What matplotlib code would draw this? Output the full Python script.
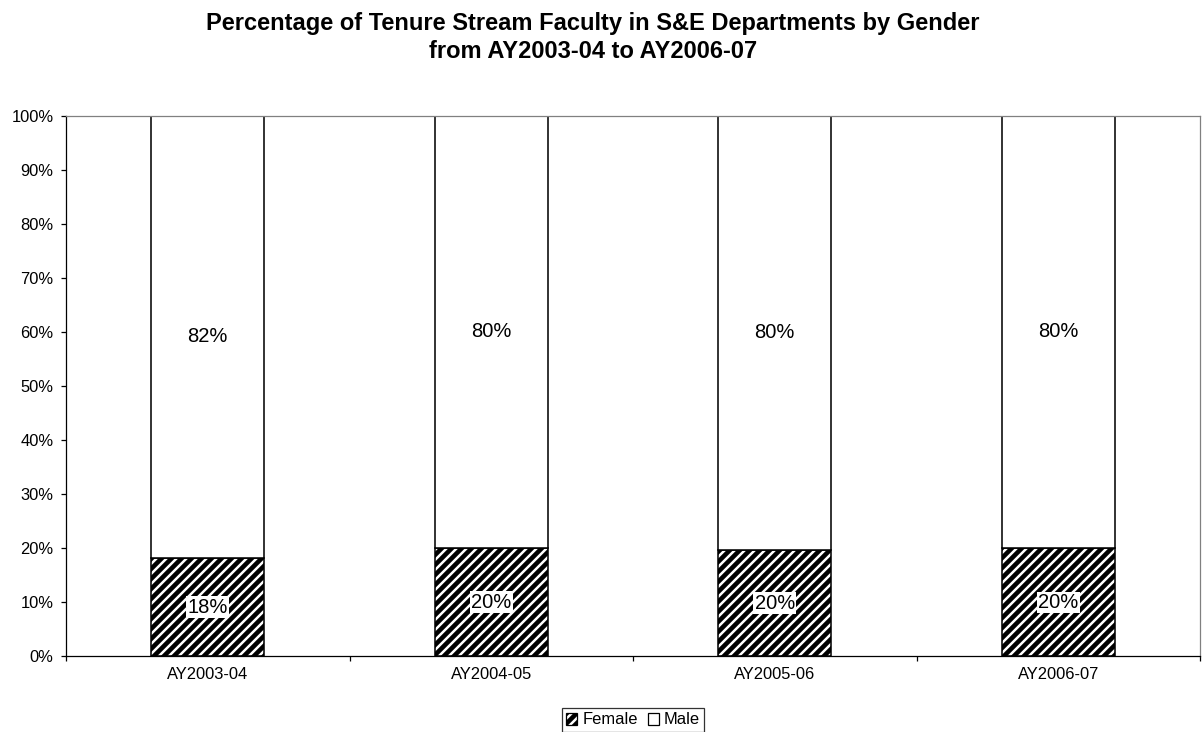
import matplotlib
matplotlib.use("Agg")
import matplotlib.pyplot as plt
from matplotlib.patches import Patch
from matplotlib.ticker import FuncFormatter, MultipleLocator
import numpy as np

# data
years = ["AY2003-04", "AY2004-05", "AY2005-06", "AY2006-07"]
female = [18.1, 19.95, 19.6, 19.9]
male = [100 - f for f in female]
female_lbl = ["18%", "20%", "20%", "20%"]
male_lbl = ["82%", "80%", "80%", "80%"]

plt.rcParams["font.family"] = ["Liberation Sans", "DejaVu Sans"]
plt.rcParams["hatch.linewidth"] = 2.2
plt.rcParams["hatch.color"] = "black"

DPI = 150
fig = plt.figure(figsize=(1204 / DPI, 732 / DPI), dpi=DPI)
ax = fig.add_axes([66 / 1204, 1 - 656 / 732, 1134 / 1204, 540.5 / 732])

x = np.arange(len(years))
w = 0.4
ax.bar(x, female, w, facecolor="white", edgecolor="black", hatch="/////",
       linewidth=0.75, label="Female")
ax.bar(x, male, w, bottom=female, facecolor="white", edgecolor="black",
       linewidth=0.75, label="Male")

for i in range(len(years)):
    ax.text(x[i], female[i] / 2, female_lbl[i], ha="center", va="center",
            fontsize=9.7, bbox=dict(facecolor="white", edgecolor="none", pad=0.6))
    ax.text(x[i], female[i] + male[i] / 2, male_lbl[i], ha="center", va="center",
            fontsize=9.7)

ax.set_xlim(-0.5, len(years) - 0.5)
ax.set_ylim(0, 100)
ax.yaxis.set_major_locator(MultipleLocator(10))
ax.yaxis.set_major_formatter(FuncFormatter(lambda v, p: f"{v:.0f}%"))
ax.set_xticks(x)
ax.set_xticklabels(years)
ax.set_xticks(np.arange(-0.5, len(years)), minor=True)
ax.tick_params(axis="x", which="major", length=0, pad=5.5, labelsize=7.9)
ax.tick_params(axis="x", which="minor", length=2.5, width=0.6, direction="out")
ax.tick_params(axis="y", length=2.5, width=0.6, pad=3.5, labelsize=7.9)

for s in ["left", "bottom"]:
    ax.spines[s].set_color("black")
    ax.spines[s].set_linewidth(0.6)
for s in ["top", "right"]:
    ax.spines[s].set_color("#808080")
    ax.spines[s].set_linewidth(0.6)

fig.text(593 / 1204, 1 - 12 / 732,
         "Percentage of Tenure Stream Faculty in S&E Departments by Gender\nfrom AY2003-04 to AY2006-07",
         ha="center", va="top", fontsize=11.35, fontweight="bold", linespacing=1.3)

handles = [Patch(facecolor="white", edgecolor="black", hatch="/////", linewidth=0.6),
           Patch(facecolor="white", edgecolor="black", linewidth=0.6)]
leg = fig.legend(handles, ["Female", "Male"], loc="center",
                 bbox_to_anchor=(633 / 1204, 1 - 720 / 732), ncol=2,
                 fontsize=7.9, frameon=True, fancybox=False, shadow=False,
                 handlelength=0.7, handleheight=0.7, handletextpad=0.3,
                 columnspacing=0.6, borderpad=0.25, borderaxespad=0)
leg.get_frame().set_edgecolor("black")
leg.get_frame().set_linewidth(0.6)

fig.savefig("out.png", dpi=DPI)
